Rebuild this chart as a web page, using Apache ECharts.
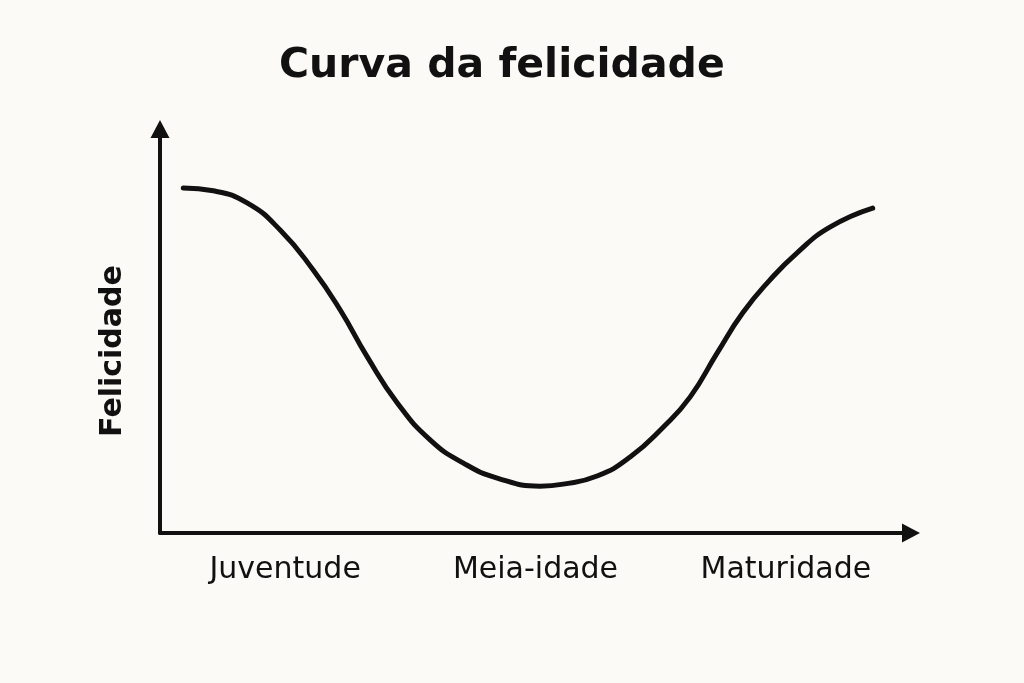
<!DOCTYPE html>
<html>
<head>
<meta charset="utf-8">
<script src="https://cdn.jsdelivr.net/npm/echarts@6/dist/echarts.min.js"></script>
<style>
html,body{margin:0;padding:0;background:#fbfaf7;}
#chart{width:1024px;height:683px;}
</style>
</head>
<body>
<div id="chart"></div>
<script>
// etapas da vida (rótulos do eixo x)
var stages = ['Juventude', 'Meia-idade', 'Maturidade'];
// curva: idade relativa (0-100) e felicidade (0-100)
var age = [3.1, 7.1, 11.6, 16.0, 20.4, 24.0, 27.6, 31.6, 36.0, 40.4, 44.9, 50.6,
           53.7, 58.2, 62.6, 67.0, 70.6, 74.2, 77.6, 81.2, 84.8, 89.2, 94.9];
var happiness = [85.4, 84.7, 81.7, 75.0, 65.1, 55.2, 43.6, 32.2, 23.0, 17.3, 13.6, 11.6,
                 12.1, 14.1, 18.8, 26.2, 33.7, 44.6, 54.5, 62.6, 69.3, 75.7, 80.4];

var points = [];
for (var i = 0; i < age.length; i++) {
    points.push([age[i], happiness[i]]);
}

var chart = echarts.init(document.getElementById('chart'));
var ink = '#111111';
var font = '"DejaVu Sans", Verdana, sans-serif';

chart.setOption({
    backgroundColor: '#fbfaf7',
    animation: false,
    title: {
        text: 'Curva da felicidade',
        left: 274,
        top: 41,
        textStyle: {color: ink, fontFamily: font, fontSize: 41, fontWeight: 'bold'}
    },
    grid: {left: 160, right: 113, top: 129, bottom: 150},
    xAxis: [{
        type: 'value',
        min: 0,
        max: 100,
        axisLine: {show: true, symbol: ['none', 'triangle'], symbolSize: [19, 18],
                   lineStyle: {color: ink, width: 4}},
        axisTick: {show: false},
        axisLabel: {show: false},
        splitLine: {show: false}
    }, {
        type: 'category',
        position: 'bottom',
        data: stages,
        axisLine: {show: false},
        axisTick: {show: false},
        axisLabel: {color: ink, fontFamily: font, fontSize: 30, margin: 22}
    }],
    yAxis: {
        type: 'value',
        min: 0,
        max: 100,
        name: 'Felicidade',
        nameLocation: 'middle',
        nameGap: 32,
        nameTextStyle: {color: ink, fontFamily: font, fontSize: 30, fontWeight: 'bold',
                        padding: [0, 40, 0, 0]},
        axisLine: {show: true, symbol: ['none', 'triangle'], symbolSize: [19, 18],
                   lineStyle: {color: ink, width: 4}},
        axisTick: {show: false},
        axisLabel: {show: false},
        splitLine: {show: false}
    },
    series: [{
        type: 'line',
        xAxisIndex: 0,
        data: points,
        smooth: true,
        showSymbol: false,
        lineStyle: {color: ink, width: 5, cap: 'round'}
    }]
});
</script>
</body>
</html>
